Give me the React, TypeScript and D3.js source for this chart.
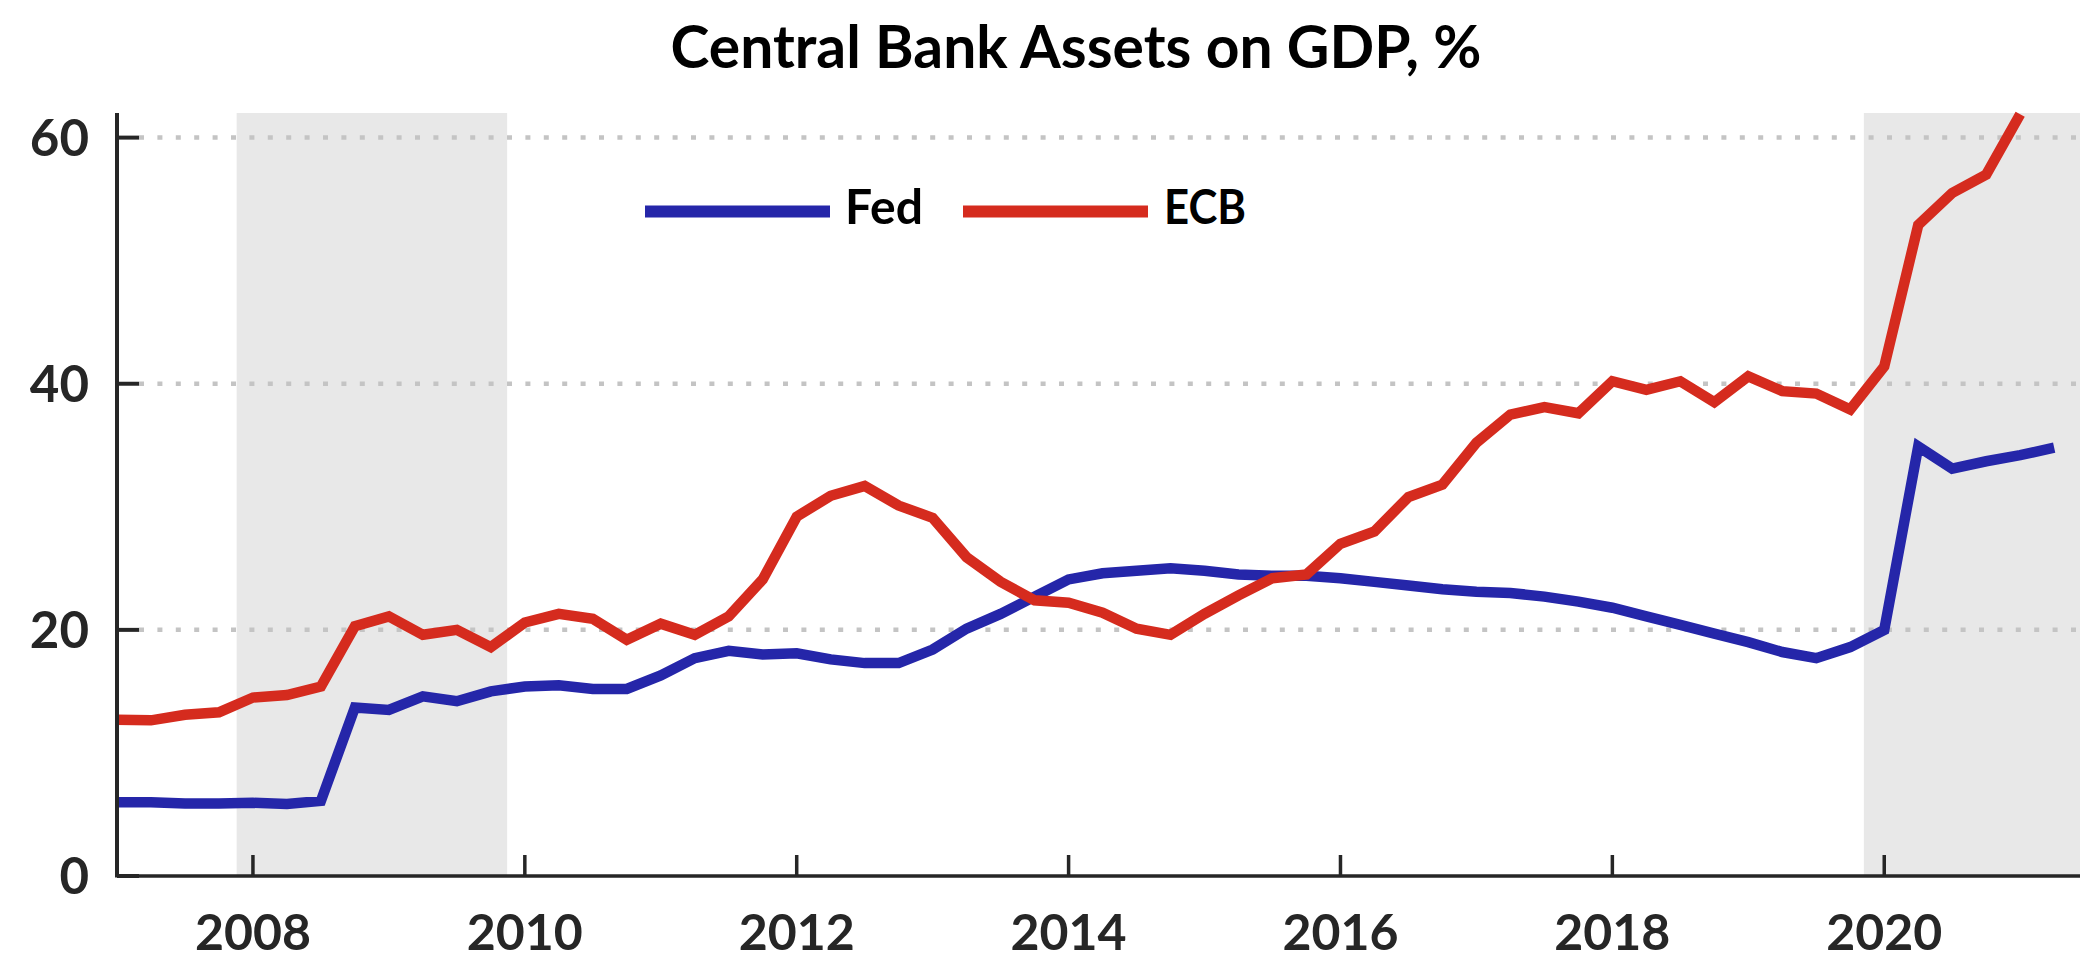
import React from "react";
import * as d3 from "d3";

const TITLE = "Central Bank Assets on GDP, %";
const START_YEAR = 2007;
const fed = [6.0, 6.0, 5.9, 5.9, 5.95, 5.85, 6.1, 13.7, 13.5, 14.6, 14.2, 15.0, 15.4, 15.5, 15.2, 15.2, 16.3, 17.7, 18.3, 18.0, 18.1, 17.6, 17.3, 17.3, 18.4, 20.1, 21.3, 22.7, 24.1, 24.6, 24.8, 25.0, 24.8, 24.5, 24.4, 24.4, 24.2, 23.9, 23.6, 23.3, 23.1, 23.0, 22.7, 22.3, 21.8, 21.1, 20.4, 19.7, 19.0, 18.2, 17.7, 18.6, 20.0, 34.9, 33.1, 33.7, 34.2, 34.8];
const ecb = [12.7, 12.65, 13.1, 13.3, 14.5, 14.7, 15.4, 20.3, 21.1, 19.6, 20.0, 18.6, 20.6, 21.3, 20.9, 19.2, 20.5, 19.6, 21.1, 24.1, 29.2, 30.9, 31.7, 30.1, 29.1, 25.9, 23.9, 22.4, 22.2, 21.4, 20.1, 19.6, 21.3, 22.8, 24.2, 24.5, 27.0, 28.0, 30.8, 31.8, 35.2, 37.5, 38.1, 37.6, 40.2, 39.5, 40.2, 38.5, 40.6, 39.4, 39.2, 37.9, 41.4, 52.9, 55.5, 57.0, 61.9];
const xTicks = [2008, 2010, 2012, 2014, 2016, 2018, 2020];
const yTicks = [0, 20, 40, 60];
const gridValues = [20, 40, 60];
const shades = [[2007.88, 2009.87], [2019.85, 2021.44]];
const seriesNames = ["Fed", "ECB"];

const W = 2080, H = 961;
const FONT = "Lato, 'Open Sans', sans-serif";
const BLUE = "#2526a9";
const RED = "#d52b1e";
const AX = "#262626";

export default function App() {
  const x = d3.scaleLinear().domain([2007, 2021.44]).range([117, 2080]);
  const y = d3.scaleLinear().domain([0, 62]).range([876, 113]);
  const pts = (arr: number[]) => arr.map((v, i) => [START_YEAR + i / 4, v] as [number, number]);
  const line = d3.line<[number, number]>().x(d => x(d[0])).y(d => y(d[1]));
  const x0 = x.range()[0];
  const y0 = y(0);
  return (
    <svg width={W} height={H} style={{ position: "absolute", left: 0, top: 0, background: "#fff" }} fontFamily={FONT}>
      <rect x={0} y={0} width={W} height={H} fill="#fff" />
      {shades.map((s, i) => (
        <rect key={i} x={x(s[0])} y={y(62)} width={x(s[1]) - x(s[0])} height={y(0) - y(62)} fill="#e8e8e8" />
      ))}
      {gridValues.map(v => (
        <line key={v} x1={x0 + 22} x2={W} y1={y(v)} y2={y(v)} stroke="#c4c4c4" strokeWidth={4.5} strokeDasharray="5 13.4" />
      ))}
      <path d={line(pts(fed)) || ""} fill="none" stroke={BLUE} strokeWidth={10.5} strokeLinejoin="miter" />
      <path d={line(pts(ecb)) || ""} fill="none" stroke={RED} strokeWidth={10.5} strokeLinejoin="miter" />
      <line x1={x0} x2={x0} y1={y(62)} y2={y0 + 1.5} stroke={AX} strokeWidth={4} />
      <line x1={x0} x2={W} y1={y0} y2={y0} stroke={AX} strokeWidth={3.5} />
      {yTicks.map(v => (
        <g key={v}>
          <line x1={x0} x2={x0 + 22} y1={y(v)} y2={y(v)} stroke={AX} strokeWidth={4} />
          <text x={89} y={y(v) + 18} textAnchor="end" fontSize={51} fontWeight="bold" fill={AX}>{v}</text>
        </g>
      ))}
      {xTicks.map(t => (
        <g key={t}>
          <line x1={x(t)} x2={x(t)} y1={y0} y2={y0 - 21} stroke={AX} strokeWidth={3.5} />
          <text x={x(t)} y={950} textAnchor="middle" fontSize={49} fontWeight="bold" fill={AX} textLength={116} lengthAdjust="spacingAndGlyphs">{t}</text>
        </g>
      ))}
      <text x={1076} y={68} textAnchor="middle" fontSize={60} fontWeight="bold" fill="#000" textLength={811} lengthAdjust="spacingAndGlyphs">{TITLE}</text>
      <line x1={645} x2={830} y1={211.5} y2={211.5} stroke={BLUE} strokeWidth={12} />
      <text x={845} y={224} fontSize={48} fontWeight="bold" fill="#000" textLength={78} lengthAdjust="spacingAndGlyphs">{seriesNames[0]}</text>
      <line x1={963} x2={1148} y1={211.5} y2={211.5} stroke={RED} strokeWidth={12} />
      <text x={1164} y={224} fontSize={48} fontWeight="bold" fill="#000" textLength={82} lengthAdjust="spacingAndGlyphs">{seriesNames[1]}</text>
    </svg>
  );
}
